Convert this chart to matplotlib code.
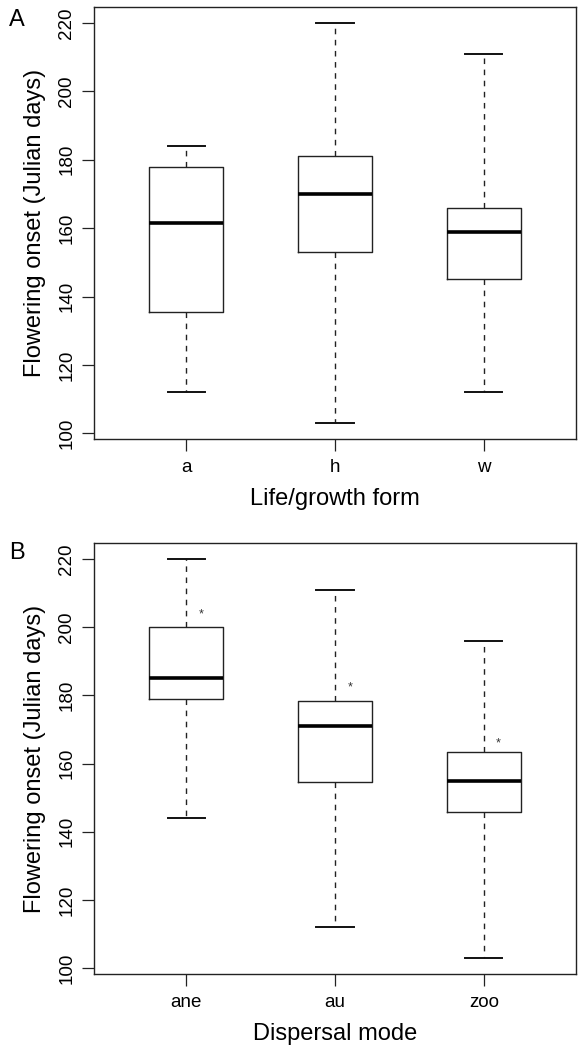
import matplotlib
matplotlib.use("Agg")
import matplotlib.pyplot as plt

plt.rcParams['font.family'] = ['Liberation Sans', 'DejaVu Sans']

# panel A: life/growth form
groups_a = ["a", "h", "w"]
lower_a = [112, 103, 112]
q1_a = [135.5, 153, 145]
med_a = [161.5, 170, 159]
q3_a = [178, 181, 166]
upper_a = [184, 220, 211]

# panel B: dispersal mode
groups_b = ["ane", "au", "zoo"]
lower_b = [144, 112, 103]
q1_b = [179, 154.5, 145.8]
med_b = [185, 171, 155]
q3_b = [200, 178.5, 163.5]
upper_b = [220, 211, 196]
stars_b = [203.8, 182.2, 166]

yticks = [100, 120, 140, 160, 180, 200, 220]

W, H = 578, 1048
fig = plt.figure(figsize=(W / 100, H / 100), dpi=100)


def make_stats(lo, q1, med, q3, hi):
    return [dict(whislo=a, q1=b, med=c, q3=d, whishi=e, fliers=[])
            for a, b, c, d, e in zip(lo, q1, med, q3, hi)]


def draw_panel(rect, stats, labels, xlabel, letter, letter_y):
    ax = fig.add_axes(rect)
    ax.bxp(stats, positions=[1, 2, 3], widths=0.5, capwidths=0.25,
           showfliers=False, patch_artist=False,
           boxprops=dict(color="#222222", lw=1.0),
           whiskerprops=dict(color="#222222", lw=1.0, linestyle=(0, (4, 4))),
           capprops=dict(color="#111111", lw=1.4),
           medianprops=dict(color="black", lw=2.6, solid_capstyle="butt"))
    ax.set_xlim(0.38, 3.62)
    ax.set_ylim(98.32, 224.68)
    ax.set_xticks([1, 2, 3])
    ax.set_xticklabels(labels)
    ax.set_yticks(yticks)
    ax.set_yticklabels([str(v) for v in yticks], rotation=90, va="center")
    ax.tick_params(axis="both", length=8.5, width=0.9, labelsize=13.5,
                   color="#222222")
    ax.tick_params(axis="y", pad=5)
    ax.tick_params(axis="x", pad=6)
    for s in ax.spines.values():
        s.set_linewidth(1.0)
        s.set_color("#222222")
    ax.set_xlabel(xlabel, fontsize=17)
    ax.set_ylabel("Flowering onset (Julian days)", fontsize=17)
    ax.xaxis.label.set_va("center")
    ax.yaxis.label.set_va("center")
    ax.xaxis.set_label_coords(0.5, -0.14)
    ax.yaxis.set_label_coords(-0.122, 0.5)
    fig.text(17 / W, 1 - letter_y / H, letter, fontsize=17,
             ha="center", va="center")
    return ax


ax_a = draw_panel([94 / W, 1 - 439 / H, 482 / W, 432 / H],
                  make_stats(lower_a, q1_a, med_a, q3_a, upper_a),
                  groups_a, "Life/growth form", "A", 20)

ax_b = draw_panel([94 / W, 1 - 974 / H, 482 / W, 431 / H],
                  make_stats(lower_b, q1_b, med_b, q3_b, upper_b),
                  groups_b, "Dispersal mode", "B", 553)

# significance marks
for i, v in enumerate(stars_b):
    ax_b.text(i + 1 + 0.1, v, "*", fontsize=9, color="#333333",
              ha="center", va="center")

fig.savefig("out.png", dpi=100)
